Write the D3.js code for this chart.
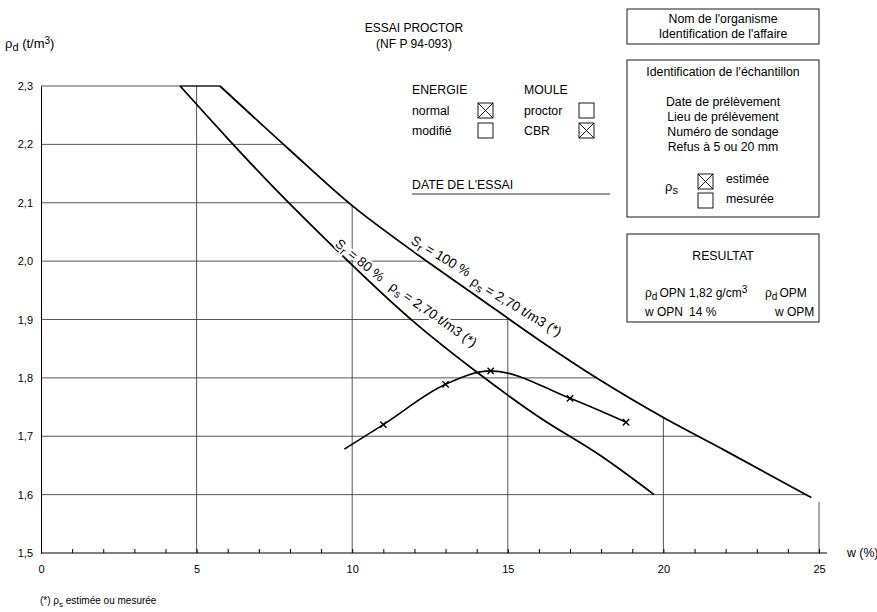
<!DOCTYPE html>
<html>
<head>
<meta charset="utf-8">
<script src="https://cdn.jsdelivr.net/npm/d3@7"></script>
<style>
body { margin: 0; background: #fff; }
svg { font-family: "Liberation Sans", Arial, sans-serif; }
text { fill: #000; }
</style>
</head>
<body>
<svg width="877" height="612"></svg>
<script>
// axis values
const wTicks = d3.range(0, 26);
const wLabels = [0, 5, 10, 15, 20, 25];
const rhoTicks = [1.5, 1.6, 1.7, 1.8, 1.9, 2.0, 2.1, 2.2, 2.3];
const rhoLabels = ["1,5", "1,6", "1,7", "1,8", "1,9", "2,0", "2,1", "2,2", "2,3"];

// saturation curves
const sr100W = [5.75, 8, 10, 12, 14, 16, 18, 20, 22, 24.75];
const sr100Rho = [2.30, 2.19, 2.095, 2.015, 1.94, 1.865, 1.795, 1.732, 1.675, 1.595];
const sr80W = [4.47, 6, 7.5, 9, 12, 14, 16, 18, 19.7];
const sr80Rho = [2.30, 2.21, 2.125, 2.045, 1.895, 1.81, 1.733, 1.666, 1.60];

// proctor test points (first one is the curve start, no marker)
const proctorW = [9.75, 11, 13, 14.45, 17, 18.8];
const proctorRho = [1.678, 1.72, 1.789, 1.812, 1.765, 1.724];

const FS = 12.3;
const svg = d3.select("svg");
const x = d3.scaleLinear().domain([0, 25]).range([41, 819]);
const y = d3.scaleLinear().domain([1.5, 2.3]).range([553, 86]);

const sr100 = sr100W.map((w, i) => [w, sr100Rho[i]]);
const sr80 = sr80W.map((w, i) => [w, sr80Rho[i]]);
const proctor = proctorW.map((w, i) => [w, proctorRho[i]]);

// where the 100% curve sits, to stop the grid at it
function rhoAt(w) {
  if (w <= sr100[0][0]) return sr100[0][1];
  for (let i = 1; i < sr100.length; i++) {
    const [w0, r0] = sr100[i - 1], [w1, r1] = sr100[i];
    if (w <= w1 || i === sr100.length - 1) return r0 + (w - w0) * (r1 - r0) / (w1 - w0);
  }
}
function wAt(r) {
  if (r >= sr100[0][1]) return sr100[0][0];
  for (let i = 1; i < sr100.length; i++) {
    const [w0, r0] = sr100[i - 1], [w1, r1] = sr100[i];
    if (r >= r1 || i === sr100.length - 1) return w0 + (r - r0) * (w1 - w0) / (r1 - r0);
  }
}

const grid = svg.append("g").attr("stroke", "#444").attr("stroke-width", 0.9);
grid.selectAll(".h").data(rhoTicks.slice(1)).enter().append("line")
  .attr("x1", x(0)).attr("x2", d => x(wAt(d)))
  .attr("y1", d => y(d)).attr("y2", d => y(d));
grid.selectAll(".v").data(wLabels.slice(1)).enter().append("line")
  .attr("x1", d => x(d)).attr("x2", d => x(d))
  .attr("y1", y(1.5)).attr("y2", d => y(Math.min(2.3, rhoAt(d))));

// axes
const xAxis = d3.axisBottom(x).tickValues(wTicks).tickSizeInner(-4).tickSizeOuter(0)
  .tickPadding(12).tickFormat(d => wLabels.includes(d) ? d : "");
const gx = svg.append("g").attr("transform", `translate(0,${y(1.5)})`).call(xAxis);
gx.select(".domain").remove();
gx.selectAll("text").attr("font-size", 11).attr("font-family", null);
svg.append("line").attr("x1", x(0)).attr("x2", x(25) + 8)
  .attr("y1", y(1.5)).attr("y2", y(1.5)).attr("stroke", "#000");

const yAxis = d3.axisLeft(y).tickValues(rhoTicks).tickSize(0).tickPadding(8)
  .tickFormat((d, i) => rhoLabels[i]);
const gy = svg.append("g").attr("transform", `translate(${x(0)},0)`).call(yAxis);
gy.selectAll("text").attr("font-size", 11).attr("font-family", null);
gy.select(".domain").attr("stroke", "#000");

svg.append("text").attr("x", x(25) + 28).attr("y", y(1.5) + 4).attr("font-size", FS).text("w (%)");

const yl = svg.append("text").attr("x", 5).attr("y", 48).attr("font-size", 13);
yl.append("tspan").text("ρ");
yl.append("tspan").attr("dy", 3).attr("font-size", 11).text("d");
yl.append("tspan").attr("dy", -3).text(" (t/m");
yl.append("tspan").attr("dy", -4).attr("font-size", 10).text("3");
yl.append("tspan").attr("dy", 4).text(")");

// curves
const line = d3.line().x(d => x(d[0])).y(d => y(d[1])).curve(d3.curveMonotoneX);
svg.append("path").datum(sr100).attr("d", line)
  .attr("fill", "none").attr("stroke", "#000").attr("stroke-width", 1.8);
svg.append("path").datum(sr80).attr("d", line)
  .attr("fill", "none").attr("stroke", "#000").attr("stroke-width", 1.8);
svg.append("line").attr("x1", x(sr80W[0])).attr("x2", x(sr100W[0]))
  .attr("y1", y(2.3)).attr("y2", y(2.3)).attr("stroke", "#000").attr("stroke-width", 1);

svg.append("path").datum(proctor).attr("d", line)
  .attr("fill", "none").attr("stroke", "#000").attr("stroke-width", 1.6);
svg.selectAll(".mk").data(proctor.slice(1)).enter().append("path")
  .attr("transform", d => `translate(${x(d[0])},${y(d[1])})`)
  .attr("d", d3.symbol(d3.symbolTimes, 28))
  .attr("fill", "none").attr("stroke", "#000").attr("stroke-width", 1.4);

// labels set along the curves (straight, rotated)
function slanted(w, r, angle) {
  return svg.append("text").attr("font-size", 13.5)
    .attr("transform", `translate(${x(w)},${y(r)}) rotate(${angle})`)
    .attr("stroke", "#fff").attr("stroke-width", 4).attr("paint-order", "stroke");
}
function srLabel(w, r, angle, sr) {
  const t = slanted(w, r, angle);
  t.append("tspan").text("S");
  t.append("tspan").attr("dy", 3).attr("font-size", 11).text("r");
  t.append("tspan").attr("dy", -3).text(" = " + sr + " %");
}
function rhoSLabel(w, r, angle) {
  const t = slanted(w, r, angle);
  t.append("tspan").text("ρ");
  t.append("tspan").attr("dy", 3).attr("font-size", 11).text("s");
  t.append("tspan").attr("dy", -3).text(" = 2,70 t/m3 (*)");
}
srLabel(9.42, 2.027, 39, 80);
rhoSLabel(11.17, 1.953, 35);
srLabel(11.86, 2.031, 31, 100);
rhoSLabel(13.78, 1.961, 31);

// header
svg.append("text").attr("x", 414).attr("y", 32).attr("text-anchor", "middle").attr("font-size", 12).text("ESSAI PROCTOR");
svg.append("text").attr("x", 414).attr("y", 48).attr("text-anchor", "middle").attr("font-size", 12).text("(NF P 94-093)");

function box(x0, y0, crossed) {
  svg.append("rect").attr("x", x0).attr("y", y0).attr("width", 15).attr("height", 15)
    .attr("fill", "none").attr("stroke", "#000").attr("stroke-width", 0.9);
  if (crossed) {
    svg.append("path").attr("d", `M${x0},${y0}L${x0 + 15},${y0 + 15}M${x0 + 15},${y0}L${x0},${y0 + 15}`)
      .attr("stroke", "#000").attr("stroke-width", 0.9);
  }
}
const txt = (tx, ty, s, size = FS, anchor = "start") =>
  svg.append("text").attr("x", tx).attr("y", ty).attr("font-size", size).attr("text-anchor", anchor).text(s);

txt(412, 94, "ENERGIE");
txt(412, 115, "normal");
txt(412, 135, "modifié");
box(478, 103, true);
box(478, 123, false);
txt(524, 94, "MOULE");
txt(524, 115, "proctor");
txt(524, 135, "CBR");
box(579, 103, false);
box(579, 123, true);
txt(412, 189, "DATE DE L'ESSAI");
svg.append("line").attr("x1", 412).attr("x2", 610).attr("y1", 194).attr("y2", 194).attr("stroke", "#000").attr("stroke-width", 0.8);

// right panel
const panel = [[627, 9, 35], [627, 60, 157], [627, 234, 88]];
panel.forEach(([px, py, ph]) => svg.append("rect").attr("x", px).attr("y", py).attr("width", 192).attr("height", ph)
  .attr("fill", "none").attr("stroke", "#000").attr("stroke-width", 0.9));
txt(723, 23, "Nom de l'organisme", FS, "middle");
txt(723, 38, "Identification de l'affaire", FS, "middle");
txt(723, 76, "Identification de l'échantillon", FS, "middle");
txt(723, 106, "Date de prélèvement", FS, "middle");
txt(723, 121, "Lieu de prélèvement", FS, "middle");
txt(723, 136, "Numéro de sondage", FS, "middle");
txt(723, 151, "Refus à 5 ou 20 mm", FS, "middle");
const rs = svg.append("text").attr("x", 665).attr("y", 191).attr("font-size", 13);
rs.append("tspan").text("ρ");
rs.append("tspan").attr("dy", 3).attr("font-size", 11).text("s");
box(698, 174, true);
box(698, 193, false);
txt(726, 183, "estimée");
txt(726, 203, "mesurée");
txt(723, 260, "RESULTAT", FS, "middle");

function rhoText(tx, ty, rest) {
  const t = svg.append("text").attr("x", tx).attr("y", ty).attr("font-size", 12);
  t.append("tspan").text("ρ");
  t.append("tspan").attr("dy", 3).attr("font-size", 10).text("d");
  t.append("tspan").attr("dy", -3).attr("dx", 2).text(rest);
  return t;
}
rhoText(645, 297, "OPN");
const v = svg.append("text").attr("x", 689).attr("y", 297).attr("font-size", 12);
v.append("tspan").text("1,82 g/cm");
v.append("tspan").attr("dy", -4).attr("font-size", 10).text("3");
rhoText(765, 297, "OPM");
txt(645, 316, "w OPN", 12);
txt(689, 316, "14 %", 12);
txt(775, 316, "w OPM", 12);

// footnote
const fn = svg.append("text").attr("x", 40).attr("y", 604).attr("font-size", 10);
fn.append("tspan").text("(*) ρ");
fn.append("tspan").attr("dy", 3).attr("font-size", 8).text("s");
fn.append("tspan").attr("dy", -3).text(" estimée ou mesurée");
</script>
</body>
</html>
